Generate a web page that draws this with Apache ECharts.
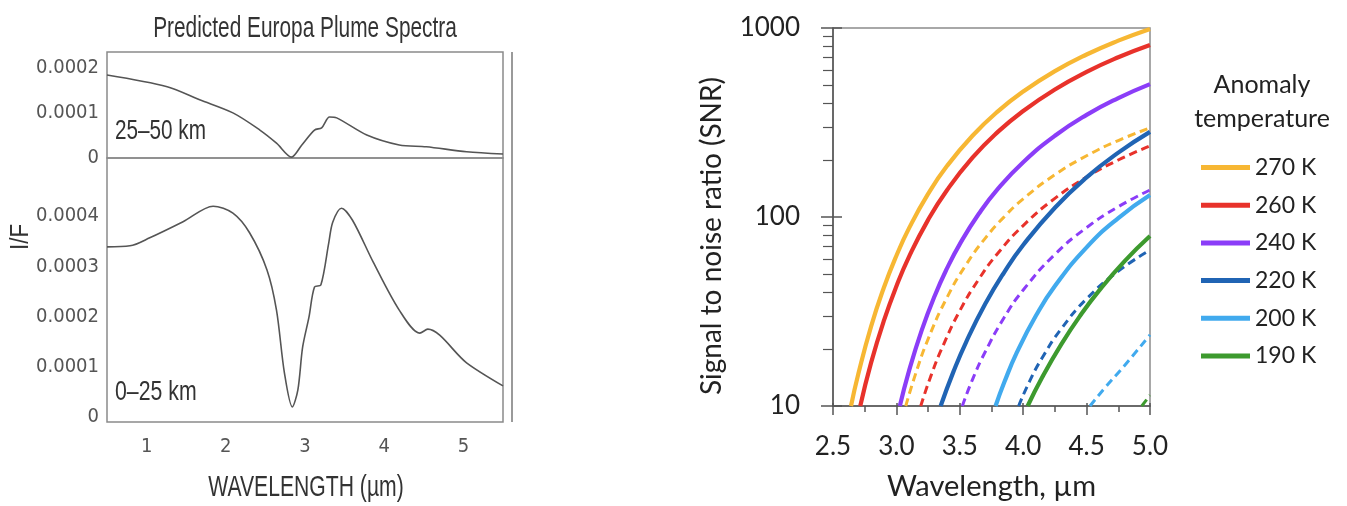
<!DOCTYPE html>
<html><head><meta charset="utf-8">
<script src="https://cdn.jsdelivr.net/npm/echarts@6/dist/echarts.min.js"></script>
<style>html,body{margin:0;padding:0;background:#fff}#c{width:1347px;height:506px}</style>
</head><body><div id="c"></div>
<script>
// ---------- Left panel: Predicted Europa Plume Spectra ----------
const specWavelengthTop = [0.5, 1.26, 1.67, 2.09, 2.43, 2.64, 2.83, 2.96, 3.12, 3.21, 3.31, 3.40, 3.78, 4.19, 4.53, 5.04, 5.5];
const specIFTop = [1.84e-4, 1.58e-4, 1.29e-4, 1.0e-4, 0.62e-4, 0.33e-4, 0.02e-4, 0.29e-4, 0.62e-4, 0.67e-4, 0.91e-4, 0.89e-4, 0.51e-4, 0.29e-4, 0.25e-4, 0.14e-4, 0.09e-4];
const specWavelengthBottom = [0.5, 0.79, 1.04, 1.46, 1.84, 2.09, 2.30, 2.52, 2.64, 2.74, 2.84, 2.91, 2.97, 3.05, 3.12, 3.20, 3.30, 3.35, 3.46, 3.60, 3.86, 4.19, 4.45, 4.55, 5.04, 5.5];
const specIFBottom = [3.39e-4, 3.41e-4, 3.57e-4, 3.89e-4, 4.20e-4, 4.06e-4, 3.67e-4, 2.93e-4, 2.13e-4, 0.88e-4, 0.20e-4, 0.54e-4, 1.39e-4, 1.99e-4, 2.59e-4, 2.63e-4, 3.47e-4, 3.88e-4, 4.16e-4, 3.92e-4, 3.09e-4, 2.13e-4, 1.67e-4, 1.75e-4, 1.08e-4, 0.62e-4];
const specXTicks = [1, 2, 3, 4, 5];
const specYTicksTop = [0, 1e-4, 2e-4];
const specYTicksBottom = [0, 1e-4, 2e-4, 3e-4, 4e-4];

// ---------- Right panel: SNR vs wavelength ----------
const snrYTicks = [10, 100, 1000];
const snrYMinorTicks = [20, 30, 40, 50, 60, 70, 80, 90, 200, 300, 400, 500, 600, 700, 800, 900];
const legendNames = ['270 K', '260 K', '240 K', '220 K', '200 K', '190 K'];
// solid curves [wavelength, SNR]
const snr270 = [[2.642,10],[2.7,14.8],[2.8,26.3],[2.9,42.1],[3.0,62.4],[3.1,87.3],[3.25,132.6],[3.4,186.5],[3.6,269],[3.8,362],[4.0,461],[4.25,591],[4.5,724],[4.75,857],[5.0,989]];
const snr260 = [[2.715,10],[2.8,16.9],[2.9,28.1],[3.0,43.0],[3.1,61.7],[3.25,96.6],[3.4,139],[3.6,206],[3.8,282],[4.0,364],[4.25,473],[4.5,586],[4.75,700],[5.0,813]];
const snr240 = [[3.027,10],[3.1,15.4],[3.2,25.2],[3.3,38.0],[3.4,53.6],[3.5,71.9],[3.65,104],[3.8,141],[4.0,195],[4.25,269],[4.5,347],[4.75,426],[5.0,505]];
const snr220 = [[3.349,10],[3.45,15.2],[3.55,21.8],[3.7,34.6],[3.85,51.0],[4.0,71.1],[4.25,112],[4.5,162],[4.75,219],[5.0,282]];
const snr200 = [[3.782,10],[3.85,13.3],[3.95,19.2],[4.1,30.0],[4.25,43.1],[4.5,69.1],[4.75,98.7],[5.0,130.6]];
const snr190 = [[4.035,10],[4.15,14.2],[4.3,21.2],[4.45,30.1],[4.6,40.9],[4.8,58.4],[5.0,79.3]];
// dashed curves
const snr270d = [[3.074,10],[3.15,14.7],[3.25,22.6],[3.4,37.6],[3.55,56.0],[3.7,77.1],[3.85,100.2],[4.0,124.7],[4.25,167.4],[4.5,210.8],[4.75,253.9],[5.0,295.8]];
const snr260d = [[3.192,10],[3.27,14.3],[3.37,21.0],[3.5,31.9],[3.65,46.9],[3.8,64.3],[4.0,90.1],[4.25,125.5],[4.5,162.6],[4.75,200.3],[5.0,237.7]];
const snr240d = [[3.52,10],[3.6,13.8],[3.7,19.3],[3.85,29.4],[4.0,41.1],[4.25,63.4],[4.5,87.9],[4.75,113.3],[5.0,139]];
const snr220d = [[3.964,10],[4.05,13.5],[4.15,18.0],[4.3,25.6],[4.5,36.9],[4.75,51.7],[5.0,66.8]];
const snr200d = [[4.527,10],[4.65,12.6],[4.79,16.1],[5.0,23.8]];
const snr190d = [[4.935,10],[5.0,11.4]];

const NARROW = "'DejaVu Sans Condensed','Liberation Sans Narrow','Arial Narrow',sans-serif";
const ARIAL = "'Liberation Sans',Arial,sans-serif";
const CAL = "Lato,'Open Sans',sans-serif";
const COLORS = {'270 K':'#F7B733','260 K':'#E8322B','240 K':'#8B3DF8','220 K':'#2064B4','200 K':'#41AAEE','190 K':'#3D9A2E'};

const zip = (xs, ys) => xs.map((x, i) => [x, ys[i]]);
const fmtIF = v => (Math.abs(v) < 1e-12 ? '0' : v.toFixed(4));

const snrSets = [
  ['270 K', snr270, false], ['260 K', snr260, false], ['240 K', snr240, false],
  ['220 K', snr220, false], ['200 K', snr200, false], ['190 K', snr190, false],
  ['270 K', snr270d, true], ['260 K', snr260d, true], ['240 K', snr240d, true],
  ['220 K', snr220d, true], ['200 K', snr200d, true], ['190 K', snr190d, true]
];

const series = [
  {type:'line', xAxisIndex:0, yAxisIndex:0, data: zip(specWavelengthTop, specIFTop), symbol:'none', smooth:0.3, lineStyle:{color:'#555', width:1.6}, silent:true},
  {type:'line', xAxisIndex:1, yAxisIndex:1, data: zip(specWavelengthBottom, specIFBottom), symbol:'none', smooth:0.3, lineStyle:{color:'#555', width:1.6}, silent:true}
];
snrSets.forEach(([name, d, dashed]) => {
  series.push({
    type:'line', name: dashed ? name + ' (dashed)' : name, xAxisIndex:2, yAxisIndex:2, data:d,
    symbol:'none', smooth:0.5, z: dashed ? 3 : 4,
    itemStyle:{color:COLORS[name]},
    lineStyle:{color:COLORS[name], width: dashed ? 3 : 4.2, type: dashed ? [8,5] : 'solid'}
  });
});

const axisTxt = {fontFamily: NARROW, fontSize: 20, color:'#555'};
const calTxt = {fontFamily: CAL, fontSize: 26, color:'#222'};
const sq = (text, x, y, size, scaleX, align) => ({
  type:'text', x:x, y:y, scaleX:scaleX, silent:true,
  style:{text:text, align:align || 'left', verticalAlign:'middle', font: size + 'px ' + ARIAL, fill:'#333'}
});

const option = {
  animation:false,
  backgroundColor:'#fff',
  title:[
    {text:'Anomaly\ntemperature', left:1262, top:68, textAlign:'center', padding:0,
     textStyle:{fontFamily:CAL, fontSize:25, lineHeight:34, fontWeight:'normal', color:'#222'}}
  ],
  legend:{
    data: legendNames, orient:'vertical', left:1201, top:156, padding:0,
    icon:'rect', itemWidth:49, itemHeight:5, itemGap:14.7,
    textStyle:{fontFamily:CAL, fontSize:23, lineHeight:22, color:'#222'},
    selectedMode:false
  },
  grid:[
    {left:107, top:52, width:396, height:106, show:true, borderColor:'#8a8a8a', borderWidth:1.5, outerBoundsMode:'none'},
    {left:107, top:158, width:396, height:264, show:true, borderColor:'#8a8a8a', borderWidth:1.5, outerBoundsMode:'none'},
    {left:833, top:28, width:317, height:378, show:true, borderColor:'#8c8c8c', borderWidth:1.5, outerBoundsMode:'none'}
  ],
  xAxis:[
    {type:'value', gridIndex:0, min:0.5, max:5.5, axisLine:{show:false}, axisTick:{show:false}, axisLabel:{show:false}, splitLine:{show:false}},
    {type:'value', gridIndex:1, min:0.5, max:5.5, axisLine:{show:false}, axisTick:{show:false}, splitLine:{show:false},
     axisLabel:{customValues:specXTicks, margin:15, ...axisTxt}},
    {type:'value', gridIndex:2, min:2.5, max:5.0, interval:0.5, position:'bottom',
     axisLine:{lineStyle:{color:'#555', width:1.5}},
     axisTick:{show:true, length:9, lineStyle:{color:'#555', width:1.5}},
     minorTick:{show:true, splitNumber:2, length:6, lineStyle:{color:'#555', width:1.5}},
     axisLabel:{margin:28, formatter: v => v.toFixed(1), ...calTxt},
     splitLine:{show:false},
     name:'Wavelength, µm', nameLocation:'middle', nameGap:66,
     nameTextStyle:{fontFamily:CAL, fontSize:29, color:'#222'}},
    {type:'value', gridIndex:2, min:2.5, max:5.0, interval:0.5, position:'bottom', offset:0,
     axisLine:{show:false}, axisLabel:{show:false}, splitLine:{show:false},
     axisTick:{show:true, inside:true, length:3, lineStyle:{color:'#555', width:1.5}}}
  ],
  yAxis:[
    {type:'value', gridIndex:0, min:0, max:2.35e-4, axisLine:{show:false}, axisTick:{show:false}, splitLine:{show:false},
     axisLabel:{customValues:specYTicksTop, formatter:fmtIF, margin:8, ...axisTxt}},
    {type:'value', gridIndex:1, min:-0.1e-4, max:5.16e-4, axisLine:{show:false}, axisTick:{show:false}, splitLine:{show:false},
     axisLabel:{customValues:specYTicksBottom, formatter:fmtIF, margin:8, ...axisTxt}},
    {type:'log', logBase:10, gridIndex:2, min:10, max:1000, position:'left',
     axisLine:{show:true, lineStyle:{color:'#555', width:1.5}},
     axisTick:{show:true, customValues:snrYTicks, length:12, lineStyle:{color:'#555', width:1.5}},
     axisLabel:{customValues:snrYTicks, margin:33, formatter: v => String(Math.round(v)), ...calTxt},
     splitLine:{show:false}},
    {type:'log', logBase:10, gridIndex:2, min:10, max:1000, position:'left', offset:0,
     axisLine:{show:false}, axisLabel:{show:false}, splitLine:{show:false},
     axisTick:{show:true, inside:true, customValues:snrYTicks, length:9, lineStyle:{color:'#555', width:1.5}}},
    {type:'log', logBase:10, gridIndex:2, min:10, max:1000, position:'left', offset:0,
     axisLine:{show:false}, axisLabel:{show:false}, splitLine:{show:false},
     axisTick:{show:true, customValues:snrYMinorTicks, length:10, lineStyle:{color:'#555', width:1.2}}}
  ],
  graphic:[
    {type:'line', shape:{x1:512, y1:52, x2:512, y2:422}, style:{stroke:'#9a9a9a', lineWidth:2}, silent:true},
    sq('Predicted Europa Plume Spectra', 305, 29, 30, 0.695, 'center'),
    sq('25–50 km', 115, 131, 28, 0.74),
    sq('0–25 km', 115, 392, 28, 0.76),
    sq('WAVELENGTH (µm)', 306, 488, 30, 0.705, 'center'),
    {type:'text', x:21, y:237, rotation:Math.PI/2, scaleX:0.9, silent:true,
     style:{text:'I/F', align:'center', verticalAlign:'middle', font:'25px ' + ARIAL, fill:'#333'}},
    {type:'text', x:712, y:236, rotation:Math.PI/2, silent:true,
     style:{text:'Signal to noise ratio (SNR)', align:'center', verticalAlign:'middle', font:'28px ' + CAL, fill:'#222'}}
  ],
  series: series
};

const chart = echarts.init(document.getElementById('c'), null, {renderer:'canvas'});
chart.setOption(option);
</script></body></html>
